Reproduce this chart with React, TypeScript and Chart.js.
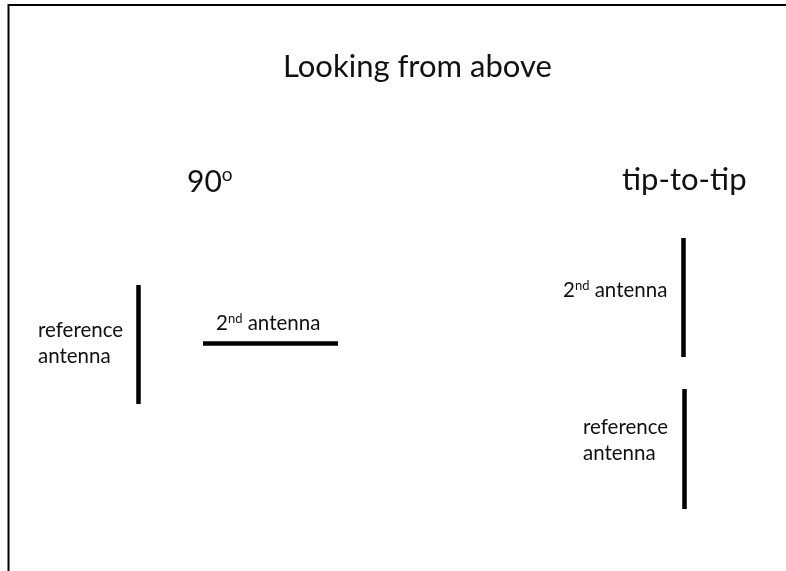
import React, { useEffect, useRef } from "react";
import { Chart, registerables } from "chart.js";

Chart.register(...registerables);

// Canvas / diagram space (one unit = one pixel of the reference)
const spaceWidth = 786;
const spaceHeight = 571;

// Frame (left + top border)
const frameX = [8.5, 8.5, 786];
const frameY = [571, 5, 5];

// Antenna bars: start / end points
const antennaNames = ["reference (90°)", "2nd (90°)", "2nd (tip-to-tip)", "reference (tip-to-tip)"];
const antennaX1 = [138.5, 203, 683.5, 684.5];
const antennaY1 = [285, 343.5, 238, 389];
const antennaX2 = [138.5, 338, 683.5, 684.5];
const antennaY2 = [404, 343.5, 357, 509];

// Text labels
const labelLines = [
  "Looking from above",
  "90^o",
  "tip-to-tip",
  "reference",
  "antenna",
  "2^nd antenna",
  "2^nd antenna",
  "reference",
  "antenna",
];
const labelX = [283, 187, 622, 38, 38, 216, 563, 583, 583];
const labelY = [77, 192, 190, 337, 363, 330, 297, 434, 460];
const labelSize = [31, 30, 31, 20.5, 20.5, 20.5, 20.5, 20.5, 20.5];

const FONT = "Lato, 'Open Sans', sans-serif";

const textPlugin = {
  id: "diagramText",
  afterDatasetsDraw(chart: any) {
    const ctx = chart.ctx as CanvasRenderingContext2D;
    const xs = chart.scales.x;
    const ys = chart.scales.y;
    ctx.save();
    ctx.fillStyle = "#111";
    ctx.textBaseline = "alphabetic";
    ctx.textAlign = "left";
    labelLines.forEach((line, i) => {
      let px = xs.getPixelForValue(labelX[i]);
      const py = ys.getPixelForValue(labelY[i]);
      const size = labelSize[i];
      // split into normal and superscript parts: "a^b rest"
      const parts: { t: string; sup: boolean }[] = [];
      const m = line.match(/^([^^]*)\^([A-Za-z]+)(.*)$/);
      if (m) {
        parts.push({ t: m[1], sup: false });
        parts.push({ t: m[2], sup: true });
        if (m[3]) parts.push({ t: m[3], sup: false });
      } else {
        parts.push({ t: line, sup: false });
      }
      parts.forEach((p) => {
        const s = p.sup ? Math.round(size * 0.64) : size;
        ctx.font = `${s}px ${FONT}`;
        const dy = p.sup ? -size * 0.36 : 0;
        ctx.fillText(p.t, px, py + dy);
        px += ctx.measureText(p.t).width;
      });
    });
    ctx.restore();
  },
};

export default function App() {
  const ref = useRef<HTMLCanvasElement | null>(null);

  useEffect(() => {
    if (!ref.current) return;
    const datasets: any[] = [
      {
        label: "frame",
        data: frameX.map((x, i) => ({ x, y: frameY[i] })),
        borderColor: "#000",
        borderWidth: 2,
        showLine: true,
        pointRadius: 0,
        fill: false,
        borderCapStyle: "butt",
        borderJoinStyle: "miter",
      },
      ...antennaNames.map((name, i) => ({
        label: name,
        data: [
          { x: antennaX1[i], y: antennaY1[i] },
          { x: antennaX2[i], y: antennaY2[i] },
        ],
        borderColor: "#000",
        borderWidth: 4.5,
        showLine: true,
        pointRadius: 0,
        fill: false,
        borderCapStyle: "butt",
      })),
    ];
    const chart = new Chart(ref.current, {
      type: "scatter",
      data: { datasets },
      options: {
        animation: false,
        responsive: false,
        devicePixelRatio: 1,
        events: [],
        layout: { padding: 0 },
        plugins: {
          legend: { display: false },
          title: { display: false },
          tooltip: { enabled: false },
        },
        scales: {
          x: { type: "linear", min: 0, max: spaceWidth, display: false },
          y: { type: "linear", min: 0, max: spaceHeight, reverse: true, display: false },
        },
      },
      plugins: [
        {
          id: "whiteBg",
          beforeDraw(c: any) {
            const g = c.ctx;
            g.save();
            g.fillStyle = "#fff";
            g.fillRect(0, 0, c.width, c.height);
            g.restore();
          },
        },
        textPlugin,
      ],
    });
    return () => chart.destroy();
  }, []);

  return (
    <div style={{ position: "fixed", left: 0, top: 0, width: spaceWidth, height: spaceHeight, background: "#fff" }}>
      <canvas ref={ref} width={spaceWidth} height={spaceHeight} style={{ display: "block" }} />
    </div>
  );
}
